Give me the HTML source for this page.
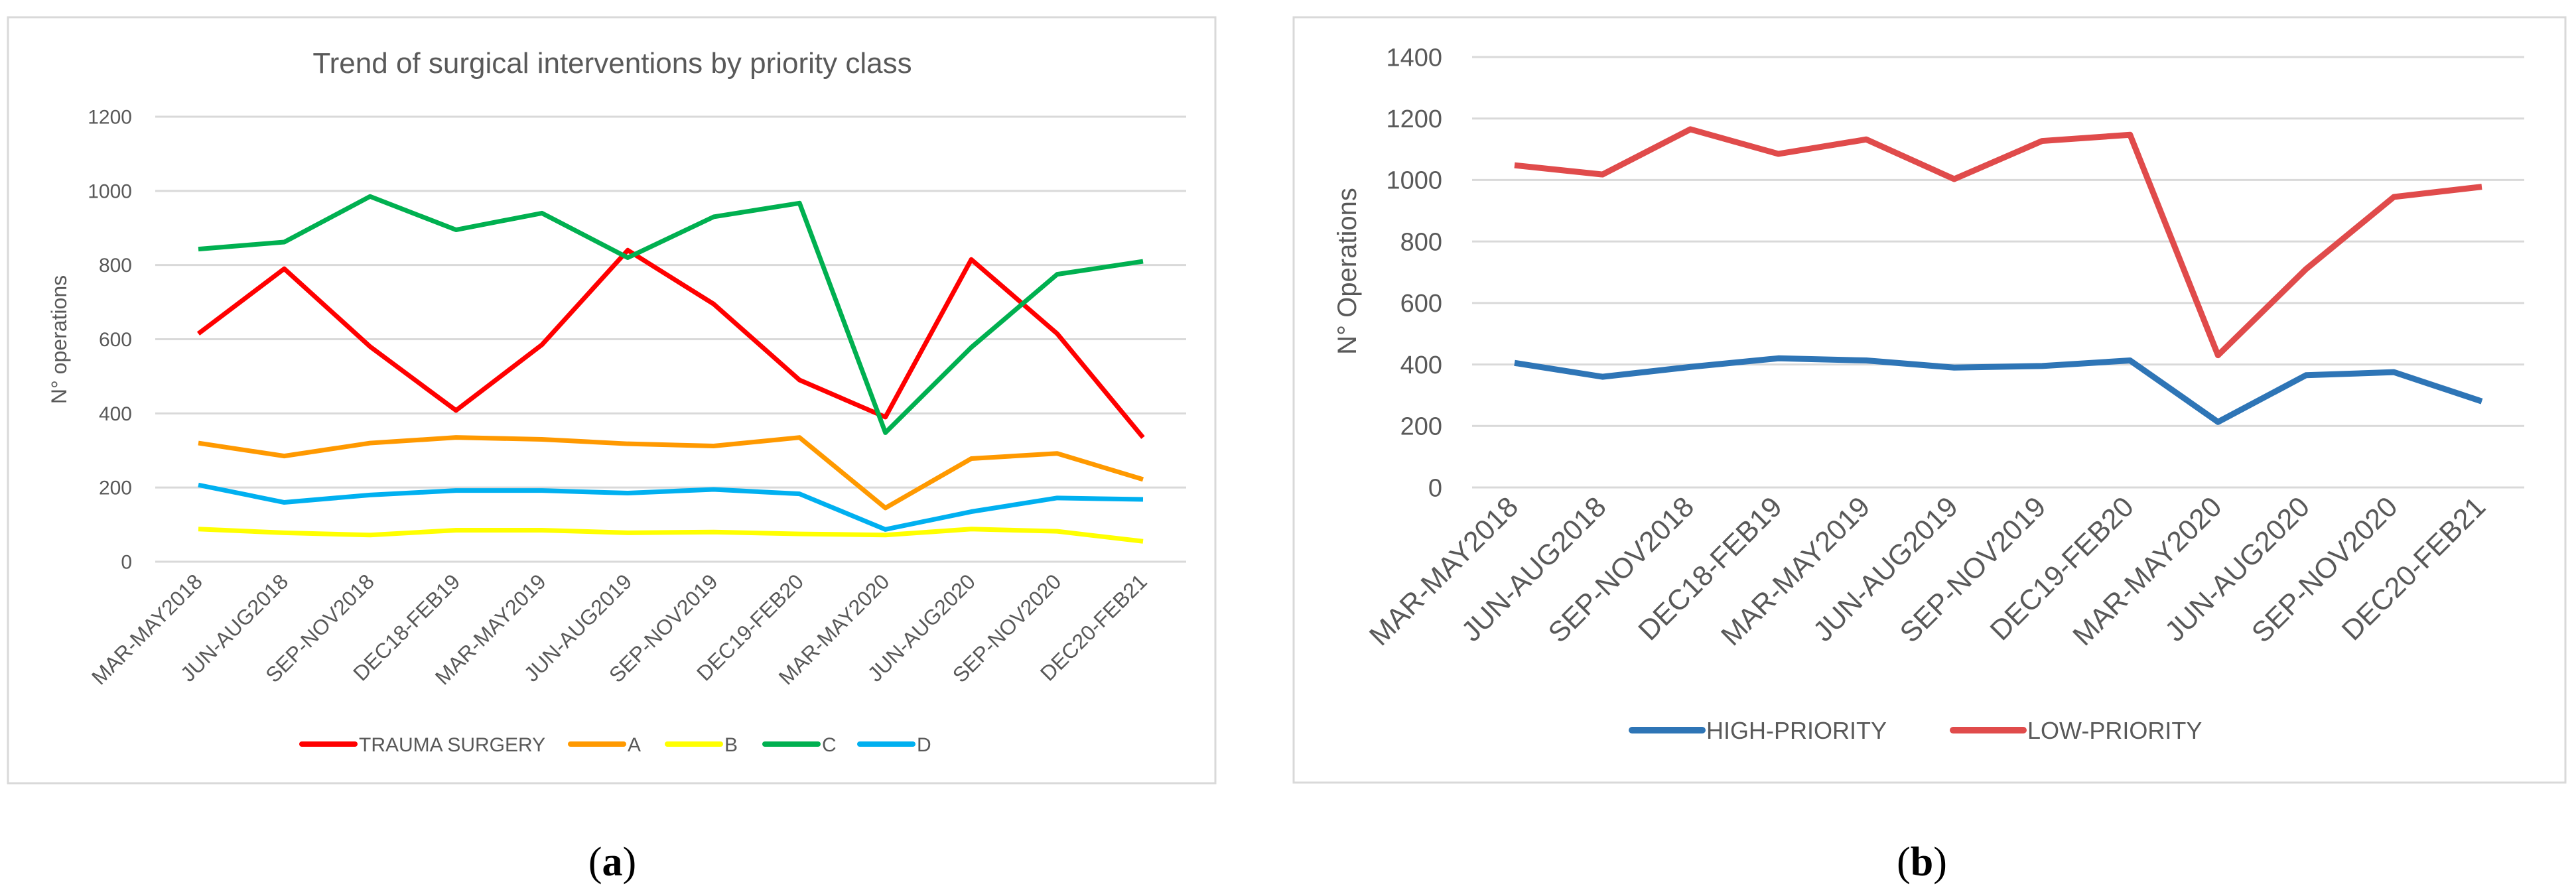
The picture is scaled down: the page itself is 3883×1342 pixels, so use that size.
<!DOCTYPE html>
<html><head><meta charset="utf-8"><style>
html,body{margin:0;padding:0;background:#fff;}
svg{display:block;font-family:"Liberation Sans",sans-serif;}
</style></head><body>
<svg id="fig" width="3883" height="1342" viewBox="0 0 3883 1342" xmlns="http://www.w3.org/2000/svg">
<rect x="12" y="26" width="1820" height="1155" fill="#fff" stroke="#d9d9d9" stroke-width="3"/>
<rect x="1950" y="26" width="1917" height="1154" fill="#fff" stroke="#d9d9d9" stroke-width="3"/>
<text x="923" y="110" text-anchor="middle" font-size="44" fill="#595959">Trend of surgical interventions by priority class</text>
<text transform="translate(100,512) rotate(-90)" text-anchor="middle" font-size="32" fill="#595959">N° operations</text>
<text transform="translate(2044,409) rotate(-90)" text-anchor="middle" font-size="40" fill="#595959">N° Operations</text>
<text x="923" y="1320" text-anchor="middle" font-size="62" font-family="Liberation Serif, serif">(<tspan font-weight="bold">a</tspan>)</text>
<text x="2897" y="1320" text-anchor="middle" font-size="62" font-family="Liberation Serif, serif">(<tspan font-weight="bold">b</tspan>)</text>
<g id="ga"></g><g id="gb"></g>
</svg>
<script>
const categories = ["MAR-MAY2018","JUN-AUG2018","SEP-NOV2018","DEC18-FEB19","MAR-MAY2019","JUN-AUG2019","SEP-NOV2019","DEC19-FEB20","MAR-MAY2020","JUN-AUG2020","SEP-NOV2020","DEC20-FEB21"];
const traumaValues = [615,790,580,408,585,840,695,490,390,815,615,335];
const aValues = [320,285,320,335,330,318,312,335,145,278,292,222];
const bValues = [88,78,72,85,85,78,80,75,72,88,82,55];
const cValues = [843,862,985,895,940,820,930,967,348,578,775,810];
const dValues = [207,160,180,192,192,185,195,183,87,135,172,168];
const ticksA = [0,200,400,600,800,1000,1200];
const highValues = [405,360,392,420,413,390,395,413,213,365,375,280];
const lowValues = [1048,1018,1165,1085,1132,1003,1127,1147,430,710,945,978];
const ticksB = [0,200,400,600,800,1000,1200,1400];

const NS="http://www.w3.org/2000/svg";
function mk(parent,tag,attrs,text){const e=document.createElementNS(NS,tag);for(const k in attrs)e.setAttribute(k,attrs[k]);if(text!==undefined)e.textContent=text;parent.appendChild(e);return e;}

function drawChart(g,cfg){
  const xs=i=>cfg.x0+i*(cfg.x1-cfg.x0)/(categories.length-1);
  const ys=v=>cfg.y0-(v/cfg.max)*(cfg.y0-cfg.yTop);
  cfg.ticks.forEach(t=>{
    const l=mk(g,'line',{x1:cfg.gl,x2:cfg.gr,y1:ys(t),y2:ys(t),stroke:'#d9d9d9','stroke-width':3});
    
    
    const tx=mk(g,'text',{x:cfg.tickX,y:ys(t)+cfg.tickFs*0.35,'text-anchor':'end','font-size':cfg.tickFs,fill:'#595959'},String(t));
    
    
  });
  categories.forEach((c,i)=>{
    const tx=mk(g,'text',{transform:`translate(${xs(i)+8},${cfg.y0+32}) rotate(-45)`,'text-anchor':'end','font-size':cfg.catFs,fill:'#595959'},c);
    
    
  });
  cfg.series.forEach(s=>{
    const p=mk(g,'polyline',{points:s.vals.map((v,i)=>xs(i)+','+ys(v)).join(' '),fill:'none',stroke:s.color,'stroke-width':cfg.lw,'stroke-linejoin':'round'});
    
    
    const ll=mk(g,'line',{x1:s.lx,x2:s.lx+cfg.legLen,y1:cfg.legY,y2:cfg.legY,stroke:s.color,'stroke-width':cfg.lw+1,'stroke-linecap':'round'});
    
    
    const lt=mk(g,'text',{x:s.lx+cfg.legLen+6,y:cfg.legY+cfg.legFs*0.36,'font-size':cfg.legFs,fill:'#595959'},s.name);
    
    
  });
}
drawChart(document.getElementById('ga'),{x0:299,x1:1723,y0:847,yTop:176,max:1200,gl:234,gr:1788,tickX:199,tickFs:30,catFs:32,lw:7,ticks:ticksA,legY:1122,legLen:80,legFs:30,
 series:[
  {key:'trauma',name:'TRAUMA SURGERY',vals:traumaValues,color:'#ff0000',lx:455},
  {key:'a',name:'A',vals:aValues,color:'#ff9900',lx:860},
  {key:'b',name:'B',vals:bValues,color:'#ffff00',lx:1006},
  {key:'c',name:'C',vals:cValues,color:'#00b050',lx:1153},
  {key:'d',name:'D',vals:dValues,color:'#00b0f0',lx:1296}]});
drawChart(document.getElementById('gb'),{x0:2283,x1:3741,y0:735,yTop:86,max:1400,gl:2219,gr:3805,tickX:2174,tickFs:38,catFs:43,lw:9,ticks:ticksB,legY:1101,legLen:106,legFs:36,
 series:[
  {key:'high',name:'HIGH-PRIORITY',vals:highValues,color:'#2e75b6',lx:2460},
  {key:'low',name:'LOW-PRIORITY',vals:lowValues,color:'#e04b4b',lx:2944}]});
</script>
</body></html>
